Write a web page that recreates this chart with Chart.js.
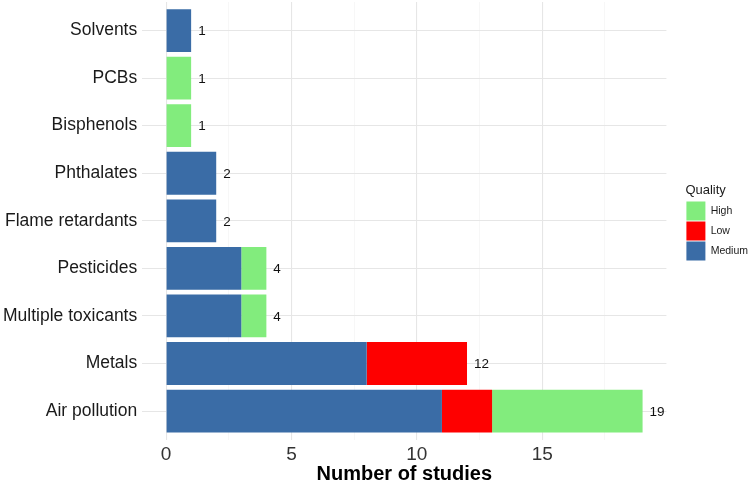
<!DOCTYPE html>
<html>
<head>
<meta charset="utf-8">
<script src="https://cdn.jsdelivr.net/npm/chart.js@4.4.1/dist/chart.umd.min.js"></script>
<style>
  html, body { margin: 0; padding: 0; background: #fff; }
  #wrap { width: 750px; height: 483px; }
</style>
</head>
<body>
<div id="wrap"><canvas id="Chart"></canvas></div>
<script>
// Data (top to bottom)
const categories = ["Solvents", "PCBs", "Bisphenols", "Phthalates", "Flame retardants",
  "Pesticides", "Multiple toxicants", "Metals", "Air pollution"];
const mediumVals = [1, 0, 0, 2, 2, 3, 3, 8, 11];
const lowVals    = [0, 0, 0, 0, 0, 0, 0, 4, 2];
const highVals   = [0, 1, 1, 0, 0, 1, 1, 0, 6];
const xTicks = [0, 5, 10, 15];

const FONT = "'Liberation Sans', Arial, Helvetica, sans-serif";

// stack totals drawn at the bar ends
const totalsPlugin = {
  id: 'totals',
  afterDatasetsDraw(chart) {
    const ctx = chart.ctx;
    const xs = chart.scales.x, ys = chart.scales.y;
    ctx.save();
    ctx.font = '13.5px ' + FONT;
    ctx.fillStyle = '#111';
    ctx.textBaseline = 'middle';
    ctx.textAlign = 'left';
    categories.forEach((c, i) => {
      const total = mediumVals[i] + lowVals[i] + highVals[i];
      ctx.fillText(String(total), xs.getPixelForValue(total) + 7, ys.getPixelForValue(i) + 1);
    });
    ctx.restore();
  }
};

// empty box between plot and legend (ggplot leaves a gap there)
const legendGap = {
  id: 'legendGap',
  beforeInit(chart) {
    Chart.layouts.addBox(chart, {
      position: 'right',
      weight: 500,
      fullSize: false,
      options: { display: false },
      width: 0,
      height: 0,
      isHorizontal() { return false; },
      getPadding() { return { left: 0, top: 0, right: 0, bottom: 0 }; },
      update(maxWidth, maxHeight) { this.width = 19; this.height = maxHeight; },
      draw() {}
    });
  }
};

const data = {
  labels: categories,
  datasets: [
    { label: 'Medium', data: mediumVals, backgroundColor: '#3a6ca6' },
    { label: 'Low', data: lowVals, backgroundColor: '#fe0000' },
    { label: 'High', data: highVals, backgroundColor: '#82ec7d' }
  ]
};

const config = {
  type: 'bar',
  data: data,
  options: {
    indexAxis: 'y',
    responsive: true,
    maintainAspectRatio: false,
    animation: false,
    layout: { padding: { top: 2, left: -2, right: -8, bottom: 0 } },
    datasets: {
      bar: { categoryPercentage: 1, barPercentage: 0.9, borderWidth: 0 }
    },
    scales: {
      x: {
        stacked: true,
        min: -0.95,
        max: 19.95,
        afterBuildTicks(scale) {
          const t = [];
          xTicks.forEach(v => { t.push({ value: v }); t.push({ value: v + 2.5 }); });
          scale.ticks = t;
        },
        ticks: {
          autoSkip: false,
          maxRotation: 0,
          padding: 6,
          color: '#333',
          font: { family: FONT, size: 19, lineHeight: 1 },
          callback: (v) => (xTicks.includes(v) ? String(v) : '')
        },
        grid: {
          drawTicks: false,
          color: (c) => (c.tick && xTicks.includes(c.tick.value) ? '#e6e6e6' : '#f1f1f1'),
          lineWidth: (c) => (c.tick && xTicks.includes(c.tick.value) ? 1.1 : 0.6)
        },
        border: { display: false },
        title: {
          display: true,
          text: 'Number of studies',
          color: '#000',
          padding: { top: 0, bottom: 4 },
          font: { family: FONT, size: 20, weight: 'bold', lineHeight: 0.42 }
        }
      },
      y: {
        stacked: true,
        // ggplot pads a discrete axis by 0.6 of a band on each end
        afterBuildTicks(scale) {
          scale._startValue -= 0.1;
          scale._valueRange += 0.2;
        },
        afterFit(scale) {
          scale.paddingTop = 0;
          scale.paddingBottom = 0;
        },
        ticks: {
          padding: 5,
          color: '#1a1a1a',
          font: { family: FONT, size: 17.5 }
        },
        grid: { offset: false, drawTicks: false, color: '#e6e6e6', lineWidth: 1.1 },
        border: { display: false }
      }
    },
    plugins: {
      legend: {
        position: 'right',
        fullSize: false,
        reverse: true,
        title: {
          display: true,
          text: 'Quality',
          position: 'start',
          color: '#1a1a1a',
          padding: { top: 4, bottom: 1 },
          font: { family: FONT, size: 13 }
        },
        labels: {
          boxWidth: 19,
          boxHeight: 19,
          padding: 1,
          color: '#1a1a1a',
          font: { family: FONT, size: 10.5 }
        }
      },
      tooltip: { enabled: false }
    }
  },
  plugins: [totalsPlugin, legendGap]
};

window.addEventListener('load', () => {
  const ctx = document.getElementById('Chart');
  new Chart(ctx, config);
});
</script>
</body>
</html>
